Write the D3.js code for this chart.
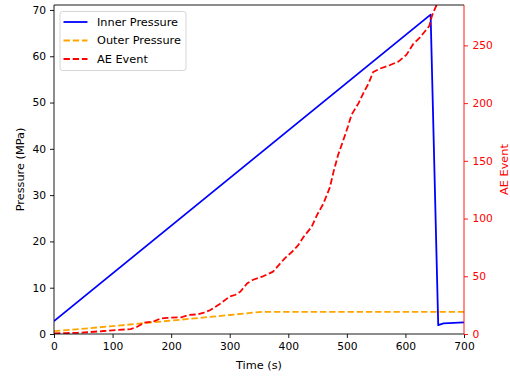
<!DOCTYPE html>
<html>
<head>
<meta charset="utf-8">
<script src="https://cdn.jsdelivr.net/npm/d3@7"></script>
<style>
  html, body { margin: 0; padding: 0; background: #fff; }
  svg { display: block; font-family: "DejaVu Sans", sans-serif; }
</style>
</head>
<body>
<svg id="chart" width="510" height="379"></svg>
<script>
// Time stamps (s) and readings for each series
const innerTime = [0, 643, 656, 665, 700];
const innerPressure = [2.8, 69.0, 1.9, 2.3, 2.5];

const outerTime = [0, 100, 200, 300, 355, 700];
const outerPressure = [0.6, 1.7, 2.9, 4.1, 4.8, 4.8];

const aeTime = [0, 20, 40, 57, 85, 110, 131, 142, 154, 171, 182, 193, 218, 230, 245, 256, 267, 283,
  300, 310, 318, 330, 340, 357, 374, 386, 394, 406, 417, 426, 440, 449, 460, 471, 477, 485, 494,
  502, 508, 520, 528, 537, 545, 557, 574, 588, 602, 613, 625, 633, 641, 643, 647, 655];
const aeCount = [0.5, 0.8, 1, 1.5, 2.6, 3.5, 4.3, 6.3, 9.8, 11, 13.5, 14, 14.5, 16.5, 17, 18.5, 20.8, 26,
  32.5, 34, 36.6, 44, 47, 50, 54, 61, 65.5, 71, 77, 84, 93, 103, 113, 127, 140, 155, 168,
  180, 190, 200, 208.5, 217, 227, 230, 233, 236, 242, 251, 257, 262, 267, 272, 278, 287];

const xTicks = [0, 100, 200, 300, 400, 500, 600, 700];
const leftTicks = [0, 10, 20, 30, 40, 50, 60, 70];
const rightTicks = [0, 50, 100, 150, 200, 250];

const DASH = "6.4,2.8";
const legendItems = [
  { label: "Inner Pressure", color: "blue", dash: null },
  { label: "Outer Pressure", color: "orange", dash: DASH },
  { label: "AE Event", color: "red", dash: DASH }
];

const svg = d3.select("#chart");
const box = { left: 54, right: 464, top: 5, bottom: 334 };
const TICK_FONT = 10.7, LABEL_FONT = 11.3, LW = 1.8;

const x = d3.scaleLinear().domain([0, 700]).range([box.left, box.right]);
const yL = d3.scaleLinear().domain([0, 71.07]).range([box.bottom, box.top]);
const yR = d3.scaleLinear().domain([0, 285]).range([box.bottom, box.top]);

svg.append("defs").append("clipPath").attr("id", "plotclip")
  .append("rect")
  .attr("x", box.left).attr("y", box.top)
  .attr("width", box.right - box.left).attr("height", box.bottom - box.top);

const plot = svg.append("g").attr("clip-path", "url(#plotclip)");

function drawLine(ts, vs, yScale, color, dash) {
  const pts = ts.map((t, i) => [t, vs[i]]);
  const gen = d3.line().x(d => x(d[0])).y(d => yScale(d[1]));
  const p = plot.append("path").datum(pts)
    .attr("d", gen)
    .attr("fill", "none")
    .attr("stroke", color)
    .attr("stroke-width", LW)
    .attr("stroke-linejoin", "round");
  if (dash) p.attr("stroke-dasharray", dash);
}

drawLine(innerTime, innerPressure, yL, "blue", null);
drawLine(outerTime, outerPressure, yL, "orange", DASH);
drawLine(aeTime, aeCount, yR, "red", DASH);

// Axes
const xAxis = svg.append("g").attr("transform", `translate(0,${box.bottom})`)
  .call(d3.axisBottom(x).tickValues(xTicks).tickSize(4).tickPadding(4).tickFormat(d3.format("d")));
const lAxis = svg.append("g").attr("transform", `translate(${box.left},0)`)
  .call(d3.axisLeft(yL).tickValues(leftTicks).tickSize(4).tickPadding(4).tickFormat(d3.format("d")));
const rAxis = svg.append("g").attr("transform", `translate(${box.right},0)`)
  .call(d3.axisRight(yR).tickValues(rightTicks).tickSize(4).tickPadding(4.5).tickFormat(d3.format("d")));

[xAxis, lAxis, rAxis].forEach(g => {
  g.select(".domain").remove();
  g.selectAll("text").attr("font-size", TICK_FONT).attr("font-family", "DejaVu Sans, sans-serif");
});
xAxis.selectAll("line").attr("stroke", "#000").attr("stroke-width", 0.9);
xAxis.selectAll("text").attr("fill", "#000");
lAxis.selectAll("line").attr("stroke", "#000").attr("stroke-width", 0.9);
lAxis.selectAll("text").attr("fill", "#000");
rAxis.selectAll("line").attr("stroke", "red").attr("stroke-width", 0.9);
rAxis.selectAll("text").attr("fill", "red");

// Frame
const spine = (x1, y1, x2, y2, c) => svg.append("line")
  .attr("x1", x1).attr("y1", y1).attr("x2", x2).attr("y2", y2)
  .attr("stroke", c).attr("stroke-width", 0.9);
spine(box.left, box.top, box.right, box.top, "#000");
spine(box.left, box.bottom, box.right, box.bottom, "#000");
spine(box.left, box.top, box.left, box.bottom, "#000");
spine(box.right, box.top, box.right, box.bottom, "red");

// Axis titles
svg.append("text").attr("x", (box.left + box.right) / 2).attr("y", 369)
  .attr("text-anchor", "middle").attr("font-size", LABEL_FONT).text("Time (s)");
svg.append("text").attr("transform", `translate(24,${(box.top + box.bottom) / 2}) rotate(-90)`)
  .attr("text-anchor", "middle").attr("font-size", LABEL_FONT).text("Pressure (MPa)");
svg.append("text").attr("transform", `translate(508,${(box.top + box.bottom) / 2}) rotate(-90)`)
  .attr("text-anchor", "middle").attr("font-size", LABEL_FONT).attr("fill", "red").text("AE Event");

// Legend
const lg = svg.append("g").attr("transform", "translate(60,11.5)");
lg.append("rect").attr("width", 126).attr("height", 59).attr("rx", 2.5)
  .attr("fill", "#fff").attr("fill-opacity", 0.8)
  .attr("stroke", "#d0d0d0").attr("stroke-width", 0.9);
legendItems.forEach((it, i) => {
  const cy = 10.5 + i * 18.5;
  const l = lg.append("line").attr("x1", 3.5).attr("x2", 27.5).attr("y1", cy).attr("y2", cy)
    .attr("stroke", it.color).attr("stroke-width", LW);
  if (it.dash) l.attr("stroke-dasharray", it.dash);
  lg.append("text").attr("x", 37).attr("y", cy).attr("dy", "0.35em")
    .attr("font-size", LABEL_FONT).attr("fill", "#000").text(it.label);
});
</script>
</body>
</html>
